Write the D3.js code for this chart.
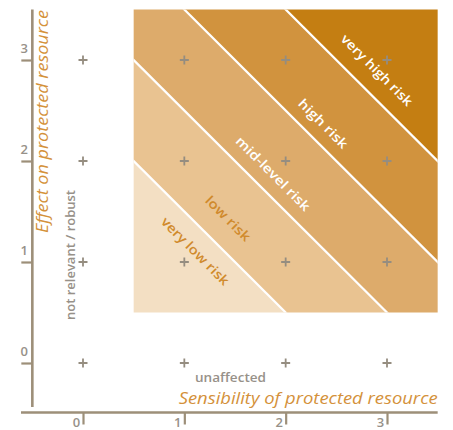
<!DOCTYPE html>
<html><head><meta charset="utf-8">
<script src="https://cdn.jsdelivr.net/npm/d3@7/dist/d3.min.js"></script>
<style>
html,body{margin:0;padding:0;background:#fff;}
svg{display:block;}
</style></head>
<body>
<svg id="c" width="453" height="430"></svg>
<script>
// ---- data ----
const ticks = [0, 1, 2, 3];
const gridX = [0, 1, 2, 3];
const gridY = [0, 1, 2, 3];
const riskNames = ["very low risk", "low risk", "mid-level risk", "high risk", "very high risk"];
const riskBounds = [-10, 2.5, 3.5, 4.5, 5.5, 20];   // x + y thresholds
const riskColors = ["#f3dfc3", "#e9c391", "#ddab6b", "#d1933e", "#c47e12"];
const riskTextColors = ["#d08a2c", "#d08a2c", "#ffffff", "#ffffff", "#ffffff"];
const riskLabelAt = [1.107, 1.43, 1.875, 2.37, 2.90];   // label centre on diagonal x = y
const riskLabelLen = [90, 58, 99, 64, 95];
const areaMin = 0.5, areaMax = 3.5;
const xTitle = "Sensibility of protected resource";
const yTitle = "Effect on protected resource";
const xNote = "unaffected";
const yNote = "not relevant / robust";

// ---- scales ----
const x = d3.scaleLinear().domain([0, 3]).range([83, 387]);
const y = d3.scaleLinear().domain([0, 3]).range([363, 60]);

const svg = d3.select("#c");
const axisCol = "#9d8f79";
const gridCol = "#958d80";
const titleCol = "#d4913a";
const noteCol = "#979189";
const font = "'Open Sans', 'DejaVu Sans', sans-serif";

// clip
svg.append("clipPath").attr("id", "area").append("rect")
  .attr("x", x(areaMin)).attr("y", y(areaMax))
  .attr("width", x(areaMax) - x(areaMin)).attr("height", y(areaMin) - y(areaMax));

const g = svg.append("g").attr("clip-path", "url(#area)");
const lo = -2, hi = 6;
riskNames.forEach((n, i) => {
  const a = riskBounds[i], b = riskBounds[i + 1];
  const pts = [[lo, a - lo], [hi, a - hi], [hi, b - hi], [lo, b - lo]];
  g.append("path")
    .attr("d", "M" + pts.map(p => x(p[0]) + "," + y(p[1])).join("L") + "Z")
    .attr("fill", riskColors[i]);
});
riskBounds.slice(1, -1).forEach(s => {
  g.append("line")
    .attr("x1", x(lo)).attr("y1", y(s - lo))
    .attr("x2", x(hi)).attr("y2", y(s - hi))
    .attr("stroke", "#fff").attr("stroke-width", 2.2);
});

// grid crosses
const cross = svg.append("g");
gridX.forEach(gx => gridY.forEach(gy => {
  const cx = x(gx), cy = y(gy);
  cross.append("path")
    .attr("d", `M${cx - 4.5},${cy}H${cx + 4.5}M${cx},${cy - 4.5}V${cy + 4.5}`)
    .attr("stroke", gridCol).attr("stroke-width", 1.8).attr("fill", "none");
}));

// risk labels
riskNames.forEach((n, i) => {
  const cx = x(riskLabelAt[i]), cy = y(riskLabelAt[i]);
  svg.append("text")
    .attr("transform", `translate(${cx},${cy}) rotate(45)`)
    .attr("text-anchor", "middle").attr("dy", "0.35em")
    .attr("font-family", font).attr("font-weight", 600).attr("font-size", 13)
    .attr("textLength", riskLabelLen[i]).attr("lengthAdjust", "spacingAndGlyphs")
    .attr("fill", riskTextColors[i]).text(n);
});

// axes
const yAxisX = x(-0.5), xAxisY = y(-0.49);
const yAx = svg.append("g").attr("transform", `translate(${yAxisX},0)`)
  .call(d3.axisLeft(y).tickValues(ticks).tickSize(11).tickSizeOuter(0).tickFormat(d3.format("d")));
yAx.select(".domain").remove();
yAx.append("line").attr("x1", 0).attr("x2", 0).attr("y1", y(3.5)).attr("y2", 407)
  .attr("stroke", axisCol).attr("stroke-width", 2.6);
yAx.selectAll(".tick line").attr("stroke", axisCol).attr("stroke-width", 2.2);
yAx.selectAll(".tick text").attr("x", -8).attr("y", -8).attr("dy", 0)
  .attr("text-anchor", "middle").attr("fill", noteCol)
  .attr("font-family", font).attr("font-weight", 600).attr("font-size", 13);

const xAx = svg.append("g").attr("transform", `translate(0,${xAxisY})`)
  .call(d3.axisBottom(x).tickValues(ticks).tickSize(12).tickSizeOuter(0).tickFormat(d3.format("d")));
xAx.select(".domain").remove();
xAx.append("line").attr("x1", 21).attr("x2", x(3.5)).attr("y1", 0).attr("y2", 0)
  .attr("stroke", axisCol).attr("stroke-width", 2.6);
xAx.selectAll(".tick line").attr("stroke", axisCol).attr("stroke-width", 2.2);
xAx.selectAll(".tick text").attr("x", -7).attr("y", 14.5).attr("dy", 0)
  .attr("text-anchor", "middle").attr("fill", noteCol)
  .attr("font-family", font).attr("font-weight", 600).attr("font-size", 13);
svg.selectAll(".tick text").attr("dominant-baseline", "auto");

// titles
svg.append("text").attr("x", x(3.5)).attr("y", 404).attr("text-anchor", "end")
  .attr("font-family", font).attr("font-style", "italic").attr("font-weight", 400)
  .attr("font-size", 17).attr("fill", titleCol)
  .attr("textLength", 259).attr("lengthAdjust", "spacingAndGlyphs").text(xTitle);
svg.append("text").attr("transform", `translate(48,233) rotate(-90)`).attr("text-anchor", "start")
  .attr("font-family", font).attr("font-style", "italic").attr("font-weight", 400)
  .attr("font-size", 17).attr("fill", titleCol)
  .attr("textLength", 223).attr("lengthAdjust", "spacingAndGlyphs").text(yTitle);

// notes
svg.append("text").attr("x", 195).attr("y", 382)
  .attr("font-family", font).attr("font-weight", 600).attr("font-size", 13)
  .attr("fill", noteCol).attr("textLength", 71).attr("lengthAdjust", "spacingAndGlyphs").text(xNote);
svg.append("text").attr("transform", `translate(75,320) rotate(-90)`)
  .attr("font-family", font).attr("font-weight", 600).attr("font-size", 13)
  .attr("fill", noteCol).attr("textLength", 130).attr("lengthAdjust", "spacingAndGlyphs").text(yNote);
</script>
</body></html>
